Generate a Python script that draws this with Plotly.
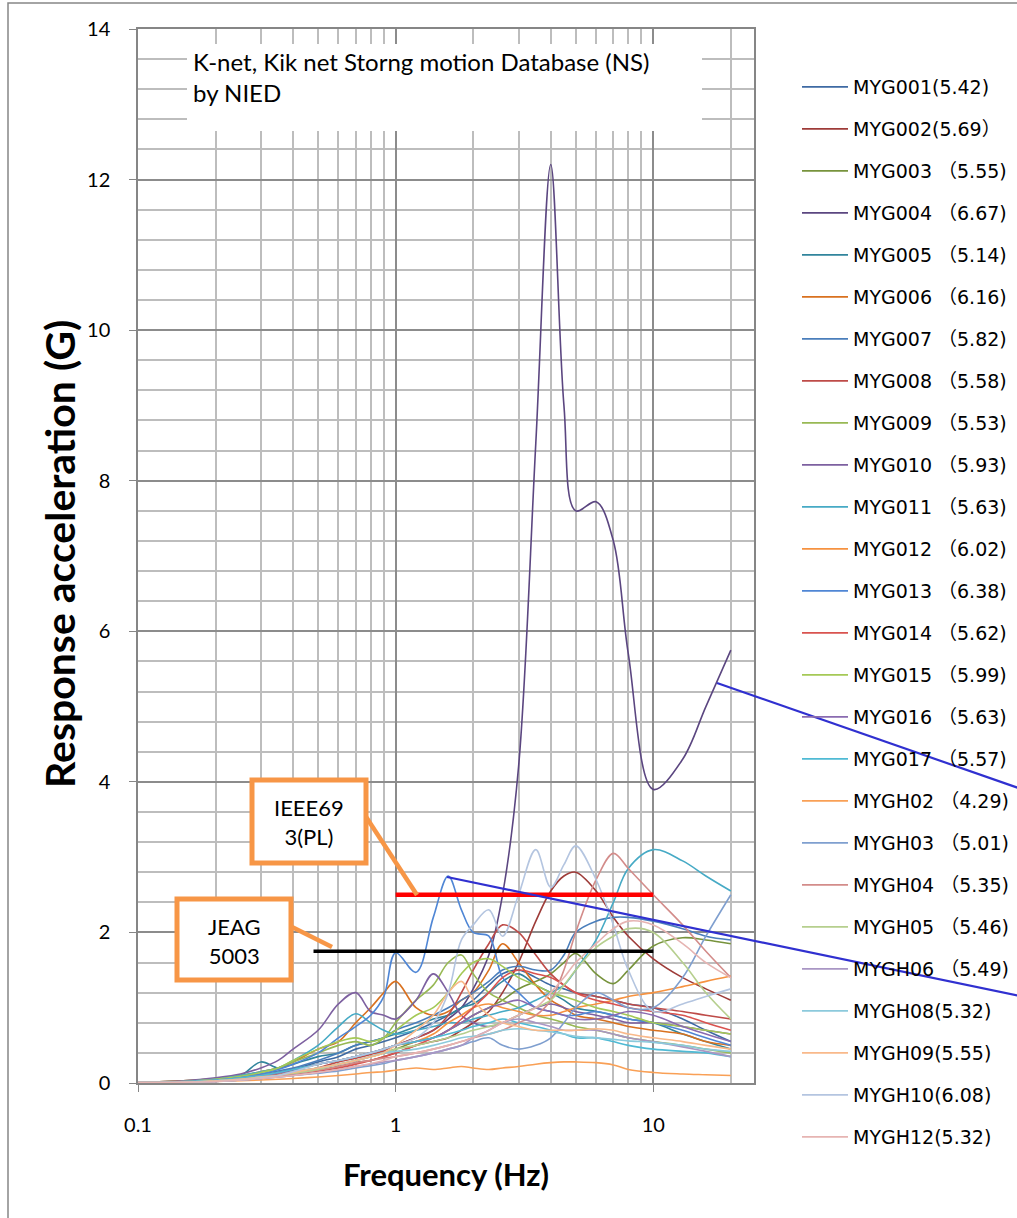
import math
import plotly.graph_objects as go

# ---------------- data ----------------
freq = [0.1, 0.15, 0.2, 0.25, 0.3, 0.35, 0.4, 0.5,
        0.6, 0.7, 0.8, 0.9, 1.0, 1.2, 1.4, 1.6,
        1.8, 2.0, 2.3, 2.6, 3.0, 3.5, 4.0, 4.5,
        5.0, 6.0, 7.0, 8.0, 10, 13, 16, 20]

names = ["MYG001(5.42)", "MYG002(5.69）", "MYG003 （5.55)", "MYG004 （6.67)",
         "MYG005 （5.14)", "MYG006 （6.16)", "MYG007 （5.82)", "MYG008 （5.58)",
         "MYG009 （5.53)", "MYG010 （5.93)", "MYG011 （5.63)", "MYG012 （6.02)",
         "MYG013 （6.38)", "MYG014 （5.62)", "MYG015 （5.99)", "MYG016 （5.63)",
         "MYG017 （5.57)", "MYGH02 （4.29)", "MYGH03 （5.01)", "MYGH04 （5.35)",
         "MYGH05 （5.46)", "MYGH06 （5.49)", "MYGH08(5.32)", "MYGH09(5.55)",
         "MYGH10(6.08)", "MYGH12(5.32)"]

colors = ["#3E6AA3", "#9E3B38", "#77933C", "#5B4680", "#31859C", "#D9711F",
          "#4A7EBB", "#BE4B48", "#98B954", "#7D60A0", "#46AAC5", "#F69240",
          "#4F86D5", "#D9534F", "#A5C956", "#8A6BB0", "#4FBAD4", "#F9A056",
          "#7F9FCF", "#D38C8A", "#B6CF8E", "#A996C4", "#8CCADC", "#F9B98A",
          "#B4C5E0", "#E6B4B2"]

MYG001 = [0.01, 0.02, 0.04, 0.07, 0.1, 0.14, 0.18, 0.28,
          0.35, 0.45, 0.5, 0.55, 0.6, 0.7, 0.8, 0.9,
          1.0, 1.1, 1.3, 1.45, 1.5, 1.4, 1.3, 1.25,
          1.2, 1.15, 1.1, 1.05, 1.0, 0.85, 0.7, 0.55]
MYG002 = [0.01, 0.02, 0.03, 0.05, 0.07, 0.09, 0.12, 0.17,
          0.22, 0.27, 0.3, 0.35, 0.4, 0.5, 0.55, 0.6,
          0.7, 0.8, 0.95, 1.2, 1.6, 2.15, 2.55, 2.75,
          2.8, 2.55, 2.2, 1.95, 1.65, 1.4, 1.25, 1.1]
MYG003 = [0.01, 0.02, 0.04, 0.06, 0.08, 0.11, 0.15, 0.2,
          0.25, 0.3, 0.35, 0.4, 0.45, 0.55, 0.6, 0.7,
          0.8, 0.9, 1.0, 1.1, 1.25, 1.35, 1.45, 1.6,
          1.72, 1.45, 1.32, 1.5, 1.82, 1.93, 1.9, 1.85]
MYG004 = [0.01, 0.02, 0.04, 0.07, 0.1, 0.14, 0.18, 0.25,
          0.3, 0.35, 0.4, 0.45, 0.5, 0.6, 0.7, 0.85,
          1.0, 1.25, 1.7, 2.5, 4.2, 8.5, 12.2, 9.0,
          7.6, 7.72, 7.2, 5.7, 3.9, 4.3, 5.0, 5.75]
MYG005 = [0.01, 0.02, 0.05, 0.1, 0.28, 0.2, 0.25, 0.35,
          0.4, 0.5, 0.55, 0.6, 0.65, 0.75, 0.85, 0.9,
          1.0, 1.05, 1.2, 1.35, 1.45, 1.3, 1.2, 1.1,
          1.0, 0.95, 0.9, 0.85, 0.8, 0.65, 0.55, 0.45]
MYG006 = [0.01, 0.03, 0.06, 0.1, 0.15, 0.2, 0.28, 0.45,
          0.55, 0.8, 1.0, 1.2, 1.35, 1.0, 0.9, 0.95,
          1.1, 1.2, 1.5, 1.85, 1.6, 1.3, 1.1, 1.0,
          0.9, 0.85, 0.8, 0.75, 0.7, 0.65, 0.55, 0.5]
MYG007 = [0.01, 0.02, 0.05, 0.08, 0.12, 0.16, 0.2, 0.3,
          0.4, 0.5, 0.55, 0.6, 0.7, 0.8, 0.9, 1.0,
          1.1, 1.2, 1.35, 1.5, 1.55, 1.5, 1.5, 1.7,
          2.0, 2.15, 2.2, 2.2, 2.15, 2.05, 1.95, 1.9]
MYG008 = [0.01, 0.02, 0.04, 0.06, 0.08, 0.11, 0.14, 0.2,
          0.28, 0.33, 0.38, 0.43, 0.5, 0.6, 0.7, 0.9,
          1.2, 1.5, 1.85, 2.1, 2.0, 1.7, 1.45, 1.3,
          1.2, 1.15, 1.1, 1.05, 1.0, 0.95, 0.9, 0.85]
MYG009 = [0.01, 0.03, 0.06, 0.1, 0.15, 0.2, 0.28, 0.4,
          0.5, 0.55, 0.5, 0.6, 0.8, 1.1, 1.3, 1.6,
          1.7, 1.45, 1.2, 1.1, 1.0, 0.9, 0.85, 0.8,
          0.75, 0.7, 0.65, 0.6, 0.55, 0.5, 0.45, 0.4]
MYG010 = [0.01, 0.03, 0.07, 0.12, 0.2, 0.3, 0.45, 0.7,
          1.05, 1.2, 0.95, 0.9, 0.85, 1.1, 1.45, 1.2,
          0.9, 0.8, 0.75, 0.8, 0.9, 1.0, 1.05, 1.0,
          0.95, 0.9, 0.85, 0.8, 0.8, 0.75, 0.7, 0.65]
MYG011 = [0.01, 0.02, 0.05, 0.1, 0.15, 0.2, 0.3, 0.5,
          0.75, 0.92, 0.8, 0.7, 0.65, 0.7, 0.75, 0.8,
          0.8, 0.85, 0.9, 0.95, 1.0, 1.1, 1.2, 1.3,
          1.5, 1.9, 2.4, 2.85, 3.1, 2.95, 2.75, 2.55]
MYG012 = [0.01, 0.02, 0.04, 0.07, 0.1, 0.13, 0.17, 0.25,
          0.3, 0.35, 0.4, 0.45, 0.5, 0.55, 0.65, 0.8,
          0.9, 1.0, 1.05, 1.0, 0.95, 0.9, 0.9, 0.95,
          1.0, 1.05, 1.1, 1.15, 1.2, 1.28, 1.35, 1.42]
MYG013 = [0.01, 0.02, 0.05, 0.08, 0.12, 0.18, 0.25, 0.4,
          0.6, 0.75, 0.9, 1.15, 1.73, 1.47, 2.2, 2.75,
          2.3, 2.0, 1.95, 1.4, 1.2, 1.0, 0.95, 0.9,
          0.9, 0.95, 0.9, 0.85, 0.8, 0.7, 0.6, 0.5]
MYG014 = [0.01, 0.02, 0.03, 0.05, 0.07, 0.09, 0.12, 0.16,
          0.2, 0.25, 0.3, 0.35, 0.4, 0.5, 0.6, 0.7,
          0.85, 1.0, 1.2, 1.4, 1.5, 1.45, 1.4, 1.3,
          1.2, 1.1, 1.05, 1.0, 0.95, 0.9, 0.8, 0.7]
MYG015 = [0.01, 0.02, 0.05, 0.09, 0.14, 0.2, 0.3, 0.45,
          0.55, 0.6, 0.55, 0.6, 0.7, 0.9, 1.0, 1.2,
          1.45, 1.6, 1.65, 1.55, 1.4, 1.3, 1.2, 1.15,
          1.1, 1.0, 0.95, 0.9, 0.8, 0.75, 0.7, 0.65]
MYG016 = [0.01, 0.02, 0.04, 0.07, 0.1, 0.13, 0.17, 0.25,
          0.3, 0.35, 0.4, 0.45, 0.5, 0.55, 0.6, 0.7,
          0.8, 0.9, 1.0, 1.05, 1.1, 1.0, 0.95, 0.9,
          0.85, 0.85, 0.9, 0.95, 0.9, 0.75, 0.65, 0.55]
MYG017 = [0.01, 0.02, 0.04, 0.07, 0.1, 0.14, 0.18, 0.25,
          0.3, 0.35, 0.4, 0.45, 0.5, 0.55, 0.6, 0.65,
          0.7, 0.75, 0.8, 0.85, 0.8, 0.75, 0.7, 0.65,
          0.6, 0.6, 0.55, 0.5, 0.45, 0.42, 0.4, 0.35]
MYGH02 = [0.005, 0.01, 0.02, 0.03, 0.04, 0.05, 0.06, 0.08,
          0.1, 0.12, 0.14, 0.15, 0.17, 0.2, 0.18, 0.2,
          0.22, 0.2, 0.18, 0.2, 0.22, 0.25, 0.27, 0.28,
          0.28, 0.27, 0.24, 0.18, 0.14, 0.12, 0.11, 0.1]
MYGH03 = [0.005, 0.01, 0.02, 0.04, 0.06, 0.08, 0.1, 0.13,
          0.16, 0.2, 0.23, 0.26, 0.3, 0.35, 0.4, 0.45,
          0.5, 0.55, 0.6, 0.5, 0.45, 0.5, 0.6, 0.8,
          1.0, 1.2, 1.1, 1.0, 1.0, 1.4, 1.95, 2.5]
MYGH04 = [0.005, 0.01, 0.02, 0.04, 0.06, 0.09, 0.12, 0.17,
          0.22, 0.27, 0.3, 0.33, 0.35, 0.4, 0.45, 0.5,
          0.55, 0.6, 0.65, 0.7, 0.8, 0.9, 1.1, 1.5,
          2.0, 2.7, 3.05, 2.85, 2.5, 2.1, 1.75, 1.4]
MYGH05 = [0.005, 0.01, 0.03, 0.05, 0.08, 0.1, 0.13, 0.18,
          0.25, 0.3, 0.35, 0.4, 0.45, 0.5, 0.55, 0.6,
          0.65, 0.7, 0.75, 0.8, 0.9, 1.0, 1.1, 1.3,
          1.5, 1.8, 1.95, 2.05, 2.0, 1.6, 1.2, 0.85]
MYGH06 = [0.005, 0.01, 0.02, 0.04, 0.06, 0.08, 0.1, 0.14,
          0.18, 0.22, 0.25, 0.28, 0.3, 0.35, 0.4, 0.45,
          0.5, 0.6, 0.7, 0.8, 0.85, 0.8, 0.75, 0.7,
          0.7, 0.7, 0.65, 0.6, 0.55, 0.48, 0.42, 0.35]
MYGH08 = [0.005, 0.01, 0.03, 0.05, 0.08, 0.1, 0.15, 0.2,
          0.25, 0.3, 0.35, 0.4, 0.42, 0.45, 0.5, 0.55,
          0.6, 0.62, 0.65, 0.7, 0.72, 0.7, 0.68, 0.65,
          0.62, 0.6, 0.58, 0.56, 0.54, 0.5, 0.45, 0.42]
MYGH09 = [0.005, 0.01, 0.03, 0.05, 0.08, 0.1, 0.14, 0.2,
          0.25, 0.3, 0.35, 0.4, 0.5, 0.7, 0.9, 1.2,
          1.35, 1.1, 0.9, 0.8, 0.75, 0.7, 0.7, 0.7,
          0.7, 0.72, 0.7, 0.65, 0.6, 0.55, 0.5, 0.45]
MYGH10 = [0.005, 0.01, 0.02, 0.04, 0.07, 0.1, 0.15, 0.25,
          0.3, 0.35, 0.4, 0.45, 0.5, 0.6, 0.8, 1.2,
          1.9, 2.1, 2.3, 1.95, 2.5, 3.1, 2.6, 2.9,
          3.15, 2.7, 2.1, 1.5, 0.95, 1.05, 1.15, 1.25]
MYGH12 = [0.005, 0.01, 0.02, 0.04, 0.06, 0.08, 0.1, 0.14,
          0.18, 0.22, 0.26, 0.3, 0.35, 0.4, 0.45, 0.5,
          0.55, 0.6, 0.7, 0.8, 0.9, 1.0, 1.2, 1.4,
          1.6, 1.85, 2.05, 2.15, 2.1, 1.85, 1.6, 1.4]

series = [MYG001, MYG002, MYG003, MYG004, MYG005, MYG006, MYG007, MYG008,
          MYG009, MYG010, MYG011, MYG012, MYG013, MYG014, MYG015, MYG016,
          MYG017, MYGH02, MYGH03, MYGH04, MYGH05, MYGH06, MYGH08, MYGH09,
          MYGH10, MYGH12]

# reference limit lines
ieee_x = [1, 10]
ieee_y = [2.5, 2.5]
jeag_x = [0.48, 10]
jeag_y = [1.75, 1.75]

x_ticks = [0.1, 1, 10]
x_ticktext = ["0.1", "1", "10"]
x_minor = [0.2, 0.3, 0.4, 0.5, 0.6, 0.7, 0.8, 0.9,
           2, 3, 4, 5, 6, 7, 8, 9, 20]

# ---------------- layout geometry (pixels) ----------------
W, H = 1017, 1218
L, R, T, B = 138, 754, 29, 1083
PW, PH = R - L, B - T


def px(x):
    return (x - L) / PW


def py(y):
    return (B - y) / PH


BASE = "Lato, 'Open Sans', sans-serif"
LEG = "'DejaVu Sans', 'Noto Sans CJK SC', sans-serif"
ORANGE = "#F79646"

fig = go.Figure()
for nm, col, vals in zip(names, colors, series):
    fig.add_trace(go.Scatter(
        x=freq, y=vals, name=nm, legendgroup=nm, mode="lines",
        line=dict(color=col, width=1.6, shape="spline", smoothing=1.0),
        hoverinfo="skip"))

fig.add_trace(go.Scatter(x=ieee_x, y=ieee_y, mode="lines", showlegend=False,
                         line=dict(color="#FF0000", width=4.5), hoverinfo="skip"))
fig.add_trace(go.Scatter(x=jeag_x, y=jeag_y, mode="lines", showlegend=False,
                         line=dict(color="#000000", width=3.5), hoverinfo="skip"))

shapes = [
    # outer chart border
    dict(type="rect", xref="paper", yref="paper", x0=px(8), x1=px(1100),
         y0=py(1300), y1=py(3), line=dict(color="#868686", width=1.5),
         fillcolor="rgba(0,0,0,0)", layer="below"),
    # title text box (white)
    dict(type="rect", xref="paper", yref="paper", x0=px(187), x1=px(702),
         y0=py(131), y1=py(44), line=dict(width=0), fillcolor="white"),
    # IEEE callout
    dict(type="line", xref="paper", yref="paper", x0=px(357), y0=py(803),
         x1=px(417), y1=py(895), line=dict(color=ORANGE, width=4.5)),
    dict(type="rect", xref="paper", yref="paper", x0=px(252), x1=px(366),
         y0=py(863), y1=py(780), line=dict(color=ORANGE, width=5),
         fillcolor="white"),
    # JEAG callout
    dict(type="line", xref="paper", yref="paper", x0=px(282), y0=py(922),
         x1=px(332), y1=py(947), line=dict(color=ORANGE, width=4.5)),
    dict(type="rect", xref="paper", yref="paper", x0=px(177), x1=px(291),
         y0=py(980), y1=py(899), line=dict(color=ORANGE, width=5),
         fillcolor="white"),
    # blue leader lines
    dict(type="line", xref="paper", yref="paper", x0=px(447), y0=py(877),
         x1=px(1030), y1=py(998), line=dict(color="#3030D0", width=2.2)),
    dict(type="line", xref="paper", yref="paper", x0=px(717), y0=py(683),
         x1=px(1030), y1=py(792), line=dict(color="#3030D0", width=2.2)),
]

annotations = [
    dict(xref="paper", yref="paper", x=px(191), y=py(77), xanchor="left",
         yanchor="middle", align="left", showarrow=False,
         text="K-net, Kik net Storng motion Database (NS)<br>by NIED",
         font=dict(family=BASE, size=24, color="#000")),
    dict(xref="paper", yref="paper", x=px(309), y=py(822), xanchor="center",
         yanchor="middle", align="center", showarrow=False,
         text="IEEE69<br>3(PL)", font=dict(family=BASE, size=22, color="#000")),
    dict(xref="paper", yref="paper", x=px(234), y=py(941), xanchor="center",
         yanchor="middle", align="center", showarrow=False,
         text="JEAG<br>5003", font=dict(family=BASE, size=22, color="#000")),
    dict(xref="paper", yref="paper", x=px(59), y=py(554), xanchor="center",
         yanchor="middle", textangle=-90, showarrow=False,
         text="<b>Response acceleration (G)</b>",
         font=dict(family=BASE, size=41, color="#000")),
    dict(xref="paper", yref="paper", x=0.5, y=py(1174), xanchor="center",
         yanchor="middle", showarrow=False, text="<b>Frequency (Hz)</b>",
         font=dict(family=BASE, size=31, color="#000")),
]

fig.update_layout(
    width=W, height=H,
    margin=dict(l=L, r=W - R, t=T, b=H - B, pad=0, autoexpand=False),
    paper_bgcolor="white", plot_bgcolor="white",
    shapes=shapes, annotations=annotations,
    showlegend=True,
    legend=dict(x=px(797), y=py(68), xanchor="left", yanchor="top",
                font=dict(family=LEG, size=19, color="#000"),
                tracegroupgap=14.3, itemwidth=46, bgcolor="rgba(0,0,0,0)",
                borderwidth=0, maxheight=1150),
    xaxis=dict(type="log", range=[-1, math.log10(24.6)],
               tickmode="array", tickvals=x_ticks, ticktext=x_ticktext,
               ticks="outside", ticklen=7, tickcolor="#868686",
               showgrid=True, gridcolor="#8C8C8C", gridwidth=1.5,
               minor=dict(tickmode="array", tickvals=x_minor, showgrid=True,
                          gridcolor="#BDBDBD", gridwidth=1.5, ticks=""),
               showline=True, linecolor="#868686", linewidth=1.5, mirror=True,
               zeroline=False, ticklabelstandoff=16,
               tickfont=dict(family=BASE, size=20, color="#000")),
    yaxis=dict(range=[0, 14], tick0=0, dtick=2,
               ticks="outside", ticklen=7, tickcolor="#868686",
               showgrid=True, gridcolor="#8C8C8C", gridwidth=1.5,
               minor=dict(dtick=0.4, showgrid=True, gridcolor="#BDBDBD",
                          gridwidth=1.5, ticks=""),
               showline=True, linecolor="#868686", linewidth=1.5, mirror=True,
               zeroline=False, ticklabelstandoff=15,
               tickfont=dict(family=BASE, size=20, color="#000")),
)

fig.write_html("out.html", config={"displayModeBar": False},
               post_script="document.body.style.margin='0';")
